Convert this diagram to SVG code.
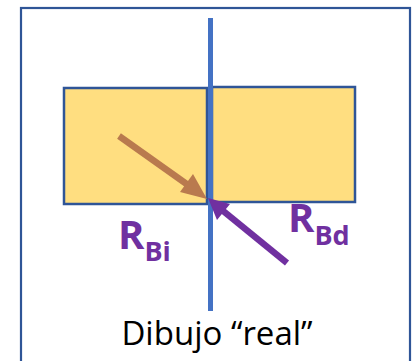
<svg xmlns="http://www.w3.org/2000/svg" width="412" height="361" viewBox="0 0 412 361">
<style>
.frame{fill:#fff;stroke:#2F5597;stroke-width:2.2}
.block{fill:#FFDE80;stroke:#2F5597;stroke-width:2.5}
.axis{stroke:#4472C4;stroke-width:5}
.lbl{font-family:"Open Sans","Liberation Sans",sans-serif;font-weight:bold;fill:#7030A0}
.cap{font-family:"Open Sans","Liberation Sans",sans-serif;fill:#000}
</style>
<rect class="frame" x="21" y="8" width="389" height="362"/>
<g id="block-left"><rect class="block" x="64" y="88" width="143" height="116"/></g>
<g id="block-right"><rect class="block" x="212" y="87" width="143" height="115"/></g>
<g id="axis"><line class="axis" x1="210.5" y1="18" x2="210.5" y2="311"/></g>
<g id="connectors">
<line x1="119" y1="136" x2="188" y2="185" stroke="#B97A4E" stroke-width="6.5"/>
<polygon points="207,199 180,192 193,174" fill="#B97A4E"/>
<line x1="287" y1="263" x2="222" y2="210" stroke="#7030A0" stroke-width="6.5"/>
<polygon points="208,198 230,204 217,220" fill="#7030A0"/>
</g>
<g id="label-RBi"><text class="lbl" x="118" y="249" font-size="40">R<tspan font-size="27" dy="12">Bi</tspan></text></g>
<g id="label-RBd"><text class="lbl" x="288" y="232" font-size="40">R<tspan font-size="27" dy="13">Bd</tspan></text></g>
<g id="caption"><text class="cap" x="217" y="345" font-size="33" text-anchor="middle">Dibujo “real”</text></g>
</svg>
